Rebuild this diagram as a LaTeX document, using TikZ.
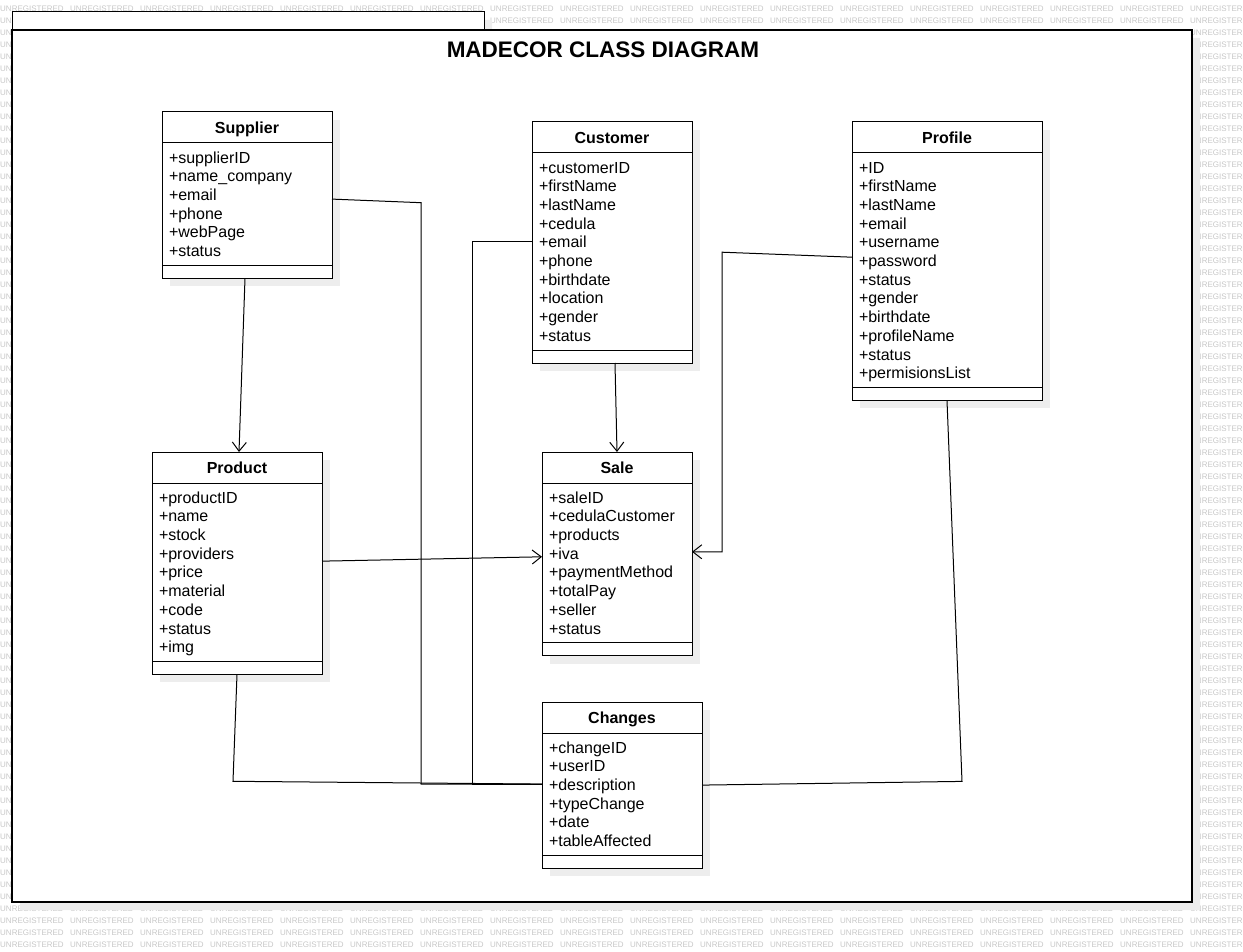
\documentclass[tikz,border=0pt]{standalone}
\usepackage{fontspec}
\setmainfont{Liberation Sans}
\usetikzlibrary{positioning, shadows, arrows.meta, calc}

\tikzset{
  umlshadow/.style={drop shadow={shadow xshift=8pt, shadow yshift=-8pt, fill=black!7, opacity=1}},
  umlhead/.style={draw, fill=white, line width=1pt, outer sep=0pt, minimum height=31pt,
    text height=11.5pt, text depth=0pt,
    font=\fontsize{16}{19}\selectfont\bfseries, umlshadow},
  umlattr/.style={draw, fill=white, line width=1pt, outer sep=0pt, inner xsep=7pt, inner ysep=5pt,
    align=left, font=\fontsize{16}{18.7}\selectfont,
    execute at begin node={\rule{0pt}{15.1pt}}, execute at end node={\rule[-3.6pt]{0pt}{3.6pt}}, umlshadow},
  umlfoot/.style={draw, fill=white, line width=1pt, outer sep=0pt, inner sep=0pt, minimum height=13pt, umlshadow},
  assoc/.style={line width=1pt, -{Straight Barb[length=9pt,width=14pt]}},
  link/.style={line width=1pt},
  wm/.style={anchor=west, inner sep=0pt, text=black!22, font=\fontsize{8}{8}\selectfont}
}

\begin{document}
\begin{tikzpicture}[x=1pt,y=-1pt]
    \useasboundingbox (0,0) rectangle (1243,952);
    \clip (0,0) rectangle (1243,952);
    % watermark
    \foreach \r in {0,...,78}{
      \foreach \c in {0,...,17}{
        \node[wm] (wm-\r-\c) at (70*\c, 8.5+12*\r) {UNREGISTERED};
      }
    }
    % frame
    \fill[black!7] (20,20) rectangle (492,38) (20,38) rectangle (1200,910);
    \draw[fill=white, line width=1pt] (12,12) rectangle (484,30);
    \draw[fill=white, line width=1.3pt] (12,30) rectangle (1192,902);
    \node[font=\fontsize{22.5}{27}\selectfont\bfseries] (title) at (603,50) {MADECOR CLASS DIAGRAM};

    % Supplier
    \node[umlhead, minimum width=170pt, anchor=north] (Sup) at (247,112) {Supplier};
    \node[umlattr, text width=156pt, below=0pt of Sup] (SupA) {+supplierID\\+name\_company\\+email\\+phone\\+webPage\\+status};
    \node[umlfoot, minimum width=170pt, below=0pt of SupA] (SupF) {};

    % Customer
    \node[umlhead, minimum width=160pt, anchor=north] (Cus) at (612,122) {Customer};
    \node[umlattr, text width=146pt, below=0pt of Cus] (CusA) {+customerID\\+firstName\\+lastName\\+cedula\\+email\\+phone\\+birthdate\\+location\\+gender\\+status};
    \node[umlfoot, minimum width=160pt, below=0pt of CusA] (CusF) {};

    % Profile
    \node[umlhead, minimum width=190pt, anchor=north] (Prof) at (947,122) {Profile};
    \node[umlattr, text width=176pt, below=0pt of Prof] (ProfA) {+ID\\+firstName\\+lastName\\+email\\+username\\+password\\+status\\+gender\\+birthdate\\+profileName\\+status\\+permisionsList};
    \node[umlfoot, minimum width=190pt, below=0pt of ProfA] (ProfF) {};

    % Product
    \node[umlhead, minimum width=170pt, anchor=north] (Prod) at (237,452) {Product};
    \node[umlattr, text width=156pt, below=0pt of Prod] (ProdA) {+productID\\+name\\+stock\\+providers\\+price\\+material\\+code\\+status\\+img};
    \node[umlfoot, minimum width=170pt, below=0pt of ProdA] (ProdF) {};

    % Sale
    \node[umlhead, minimum width=150pt, anchor=north] (Sale) at (617,452) {Sale};
    \node[umlattr, text width=136pt, below=0pt of Sale] (SaleA) {+saleID\\+cedulaCustomer\\+products\\+iva\\+paymentMethod\\+totalPay\\+seller\\+status};
    \node[umlfoot, minimum width=150pt, below=0pt of SaleA] (SaleF) {};

    % Changes
    \node[umlhead, minimum width=160pt, anchor=north] (Chg) at (622,702) {Changes};
    \node[umlattr, text width=146pt, below=0pt of Chg] (ChgA) {+changeID\\+userID\\+description\\+typeChange\\+date\\+tableAffected};
    \node[umlfoot, minimum width=160pt, below=0pt of ChgA] (ChgF) {};

    % associations
    \draw[assoc] ([xshift=-2pt]SupF.south) -- ([xshift=2pt]Prod.north);
    \draw[assoc] ([xshift=3pt]CusF.south) -- (Sale.north);
    \draw[assoc] ([yshift=11pt]ProdA.east) -- ([yshift=6pt]SaleA.west);
    \draw[assoc] ([yshift=13pt]ProfA.west) -- ++(-130,-5) |- ([yshift=11pt]SaleA.east);

    % links to Changes
    \coordinate (chgin) at ([yshift=10pt]ChgA.west);
    \draw[link] ([yshift=5pt]SupA.east) -- ++(89,3.6) |- (chgin);
    \draw[link] ([yshift=9.5pt]CusA.west) -- ++(-60,0) |- (chgin);
    \draw[link] (ProdF.south) -- ++(-4,107) -- (chgin);
    \draw[link] (ProfF.south) -- ++(15,381) -- ([yshift=9pt]ChgA.east);
\end{tikzpicture}
\end{document}
